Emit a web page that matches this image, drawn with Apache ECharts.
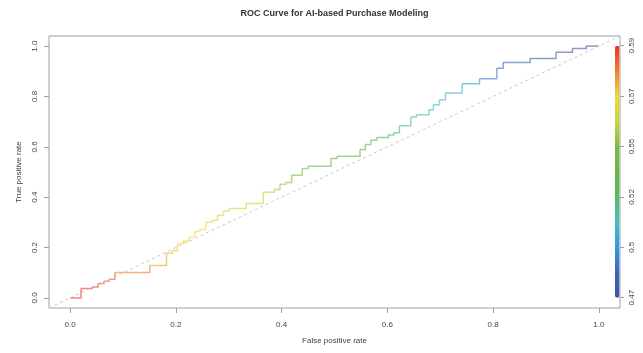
<!DOCTYPE html>
<html>
<head>
<meta charset="utf-8">
<script src="https://cdn.jsdelivr.net/npm/echarts@6/dist/echarts.min.js"></script>
<style>
  html, body { margin: 0; padding: 0; background: #ffffff; }
  #chart { width: 643px; height: 353px; }
</style>
</head>
<body>
<div id="chart"></div>
<script>
// ROC curve steps (each step: move right to fpr, then up to tpr)
var stepFpr = [0, 0.0205, 0.0413, 0.0527, 0.064, 0.0735, 0.0848, 0.1506, 0.1822, 0.1936, 0.203,
  0.2136, 0.225, 0.2358, 0.2453, 0.2566, 0.2686, 0.2788, 0.2902, 0.3008, 0.333,
  0.3652, 0.386, 0.3968, 0.4076, 0.419, 0.439, 0.4504, 0.4934, 0.5047, 0.5483,
  0.5583, 0.5686, 0.5799, 0.6019, 0.6121, 0.6227, 0.6443, 0.6549, 0.6784, 0.6871,
  0.6985, 0.7098, 0.7415, 0.7742, 0.807, 0.819, 0.870, 0.919, 0.95, 0.976, 1.0];
var stepTpr = [0, 0.0373, 0.0437, 0.0571, 0.0663, 0.0742, 0.1008, 0.1286, 0.1786, 0.188, 0.2159,
  0.2262, 0.242, 0.2635, 0.2714, 0.3004, 0.3083, 0.3282, 0.3452, 0.3548, 0.3746,
  0.4194, 0.4302, 0.4512, 0.4579, 0.4869, 0.5135, 0.5226, 0.5532, 0.5623, 0.5889,
  0.6087, 0.6258, 0.6365, 0.6468, 0.6563, 0.6841, 0.7183, 0.7278, 0.7468, 0.7675,
  0.7873, 0.8135, 0.8508, 0.8706, 0.9115, 0.935, 0.951, 0.975, 0.99, 1.0, 1.0];
var stepCutoff = [0.59, 0.590, 0.589, 0.588, 0.586, 0.585, 0.584, 0.578, 0.573, 0.571, 0.570,
  0.568, 0.567, 0.566, 0.565, 0.564, 0.5625, 0.561, 0.560, 0.559, 0.556,
  0.554, 0.552, 0.549, 0.547, 0.544, 0.542, 0.540, 0.535, 0.532, 0.528,
  0.525, 0.523, 0.520, 0.518, 0.517, 0.516, 0.513, 0.512, 0.510, 0.508,
  0.506, 0.504, 0.500, 0.495, 0.488, 0.484, 0.480, 0.476, 0.474, 0.471, 0.470];
var axisTicks = [0, 0.2, 0.4, 0.6, 0.8, 1.0];
var cutoffLabels = ['0.47', '0.5', '0.52', '0.55', '0.57', '0.59'];
var cutoffMin = 0.47, cutoffMax = 0.59;
var paletteColors = ['#4350a0', '#3d66b8', '#2e9be0', '#45bdc8', '#58b860', '#6ab545',
  '#7dbb42', '#c5d63e', '#f3d83a', '#f27d2e', '#ee2f24'];

var FONT = "'Liberation Sans', Arial, sans-serif";

var segData = [];
for (var i = 1; i < stepFpr.length; i++) {
  segData.push([stepFpr[i - 1], stepTpr[i - 1], stepFpr[i], stepTpr[i], stepCutoff[i]]);
}

var chart = echarts.init(document.getElementById('chart'), null, { renderer: 'canvas' });
var option = {
  backgroundColor: '#ffffff',
  animation: false,
  title: {
    text: 'ROC Curve for AI-based Purchase Modeling',
    left: 334.5,
    textAlign: 'center',
    top: 9,
    padding: 0,
    textStyle: { fontFamily: FONT, fontSize: 9, fontWeight: 'bold', color: '#333333' }
  },
  grid: [
    { left: 49, right: 23, top: 36, bottom: 45, show: true, borderColor: '#a0a0a0', borderWidth: 1, containLabel: false },
    { left: 615, width: 5, top: 45.7, height: 252, show: false }
  ],
  visualMap: [{
    type: 'continuous',
    seriesIndex: 1,
    dimension: 4,
    min: cutoffMin,
    max: cutoffMax,
    inRange: { color: paletteColors },
    calculable: false,
    hoverLink: false,
    orient: 'vertical',
    left: 615,
    top: 45.7,
    itemWidth: 4.5,
    itemHeight: 252,
    padding: 0,
    text: null,
    showLabel: false
  }],
  xAxis: [{
    type: 'value', gridIndex: 0, min: -0.04, max: 1.04, position: 'bottom',
    name: 'False positive rate', nameLocation: 'middle', nameGap: 29,
    nameTextStyle: { fontFamily: FONT, fontSize: 8, color: '#444444' },
    axisLine: { show: false, onZero: false },
    splitLine: { show: false },
    axisTick: { show: true, inside: false, customValues: axisTicks, length: 5, lineStyle: { color: '#a0a0a0' } },
    axisLabel: { show: true, customValues: axisTicks, margin: 13, fontFamily: FONT, fontSize: 8, color: '#444444',
      formatter: function (v) { return v.toFixed(1); } }
  }, {
    type: 'value', gridIndex: 1, min: 0, max: 1, show: false
  }],
  yAxis: [{
    type: 'value', gridIndex: 0, min: -0.04, max: 1.04, position: 'left',
    name: 'True positive rate', nameLocation: 'middle', nameGap: 26, nameRotate: 90,
    nameTextStyle: { fontFamily: FONT, fontSize: 8, color: '#444444' },
    axisLine: { show: false, onZero: false },
    splitLine: { show: false },
    axisTick: { show: true, inside: false, customValues: axisTicks, length: 5, lineStyle: { color: '#a0a0a0' } },
    axisLabel: { show: true, customValues: axisTicks, rotate: 90, margin: 10, fontFamily: FONT, fontSize: 8, color: '#444444',
      formatter: function (v) { return v.toFixed(1); } }
  }, {
    type: 'value', gridIndex: 1, min: 0, max: 5, position: 'right',
    axisLine: { show: false, onZero: false },
    splitLine: { show: false },
    axisTick: { show: true, inside: false, customValues: [0, 1, 2, 3, 4, 5], length: 4, lineStyle: { color: '#a0a0a0' } },
    axisLabel: { show: true, customValues: [0, 1, 2, 3, 4, 5], rotate: 90, margin: 8, fontFamily: FONT, fontSize: 8, color: '#444444',
      formatter: function (v) { return cutoffLabels[Math.round(v)]; } }
  }],
  series: [
    {
      type: 'line', xAxisIndex: 0, yAxisIndex: 0,
      data: [[-0.04, -0.04], [1.04, 1.04]],
      symbol: 'none', silent: true,
      lineStyle: { color: '#c8c8c8', width: 1, type: [3, 3] }
    },
    {
      type: 'custom', xAxisIndex: 0, yAxisIndex: 0,
      data: segData,
      encode: { x: [0, 2], y: [1, 3] },
      renderItem: function (params, api) {
        var p0 = api.coord([api.value(0), api.value(1)]);
        var p1 = api.coord([api.value(2), api.value(1)]);
        var p2 = api.coord([api.value(2), api.value(3)]);
        return {
          type: 'polyline',
          shape: { points: [p0, p1, p2] },
          style: { fill: null, stroke: api.visual('color'), lineWidth: 1.5, opacity: 0.6 }
        };
      }
    }
  ]
};
chart.setOption(option);
</script>
</body>
</html>
